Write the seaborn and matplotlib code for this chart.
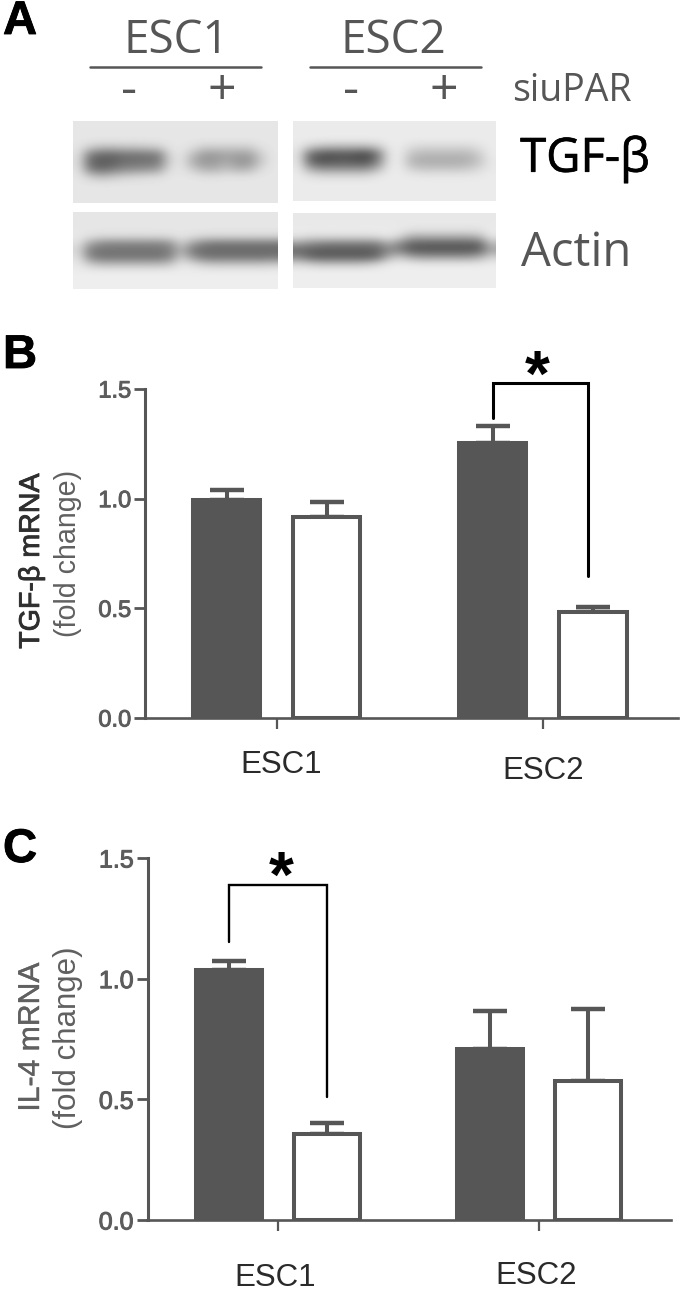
import numpy as np
import pandas as pd
import seaborn as sns
import matplotlib
matplotlib.use("Agg")
import matplotlib.pyplot as plt
import matplotlib.patheffects as pe
from matplotlib.lines import Line2D
from matplotlib.transforms import ScaledTranslation

cells = ["ESC1", "ESC2"]
treatment = ["-", "+"]
yticks = [0.0, 0.5, 1.0, 1.5]

tgf_means = [0.995, 0.915, 1.255, 0.485]
tgf_tops = [1.04, 0.985, 1.33, 0.505]
il4_means = [1.035, 0.355, 0.71, 0.575]
il4_tops = [1.075, 0.40, 0.868, 0.875]

bg_l = [230] * 18
bg_r = [235] * 18
blot_tgf_left = [
    bg_l, bg_l, bg_l,
    [228, 205, 190, 190, 195, 195, 200, 205, 228, 230, 222, 205, 205, 205, 205, 205, 225, 230],
    [225, 125, 105, 105, 115, 115, 120, 125, 215, 230, 190, 155, 155, 165, 160, 160, 205, 230],
    [222, 105, 90, 95, 110, 112, 115, 120, 210, 230, 175, 150, 155, 170, 150, 150, 200, 230],
    [226, 130, 110, 125, 140, 145, 150, 160, 222, 230, 205, 180, 180, 195, 180, 185, 220, 230],
    [230, 205, 190, 200, 210, 215, 220, 222, 230, 230, 230, 225, 225, 228, 228, 228, 230, 230],
    bg_l, bg_l, bg_l,
]
blot_tgf_right = [
    bg_r, bg_r, bg_r,
    [232, 205, 190, 185, 185, 185, 185, 200, 232, 235, 220, 215, 215, 215, 215, 215, 225, 235],
    [228, 115, 90, 85, 90, 85, 75, 120, 228, 235, 195, 185, 185, 185, 185, 185, 205, 235],
    [228, 105, 80, 85, 90, 85, 80, 125, 228, 235, 180, 172, 172, 172, 172, 175, 195, 232],
    [232, 165, 140, 140, 140, 140, 140, 175, 232, 235, 205, 195, 195, 195, 195, 200, 215, 232],
    [235, 222, 215, 215, 215, 215, 215, 228, 235, 235, 232, 230, 230, 230, 230, 230, 232, 235],
    bg_r, bg_r, bg_r,
]
blot_actin_left = [
    bg_l, bg_l, bg_l,
    [232, 222, 215, 215, 215, 215, 215, 215, 218, 228, 220, 212, 212, 212, 212, 212, 212, 212],
    [225, 165, 140, 135, 135, 135, 135, 135, 145, 205, 160, 130, 120, 120, 120, 120, 120, 120],
    [215, 125, 115, 115, 115, 115, 115, 115, 125, 180, 120, 105, 105, 105, 105, 105, 105, 105],
    [225, 140, 120, 120, 120, 120, 120, 120, 135, 205, 155, 125, 120, 120, 120, 120, 120, 125],
    [232, 205, 190, 190, 190, 190, 190, 190, 200, 230, 222, 205, 200, 200, 200, 200, 200, 205],
    [236] * 18, [238] * 18, [238] * 18,
]
blot_actin_right = [
    [232] * 18, [232] * 18,
    [235, 235, 235, 235, 235, 235, 235, 235, 235, 232, 225, 225, 225, 225, 225, 225, 225, 235],
    [225, 215, 215, 215, 215, 215, 215, 218, 228, 210, 170, 170, 170, 170, 170, 170, 180, 228],
    [155, 140, 130, 125, 125, 125, 125, 130, 170, 135, 100, 95, 95, 95, 95, 95, 100, 185],
    [105, 95, 90, 90, 90, 90, 90, 100, 135, 130, 95, 90, 90, 90, 90, 90, 100, 165],
    [140, 110, 100, 100, 100, 100, 100, 115, 180, 200, 170, 160, 160, 160, 160, 160, 175, 210],
    [215, 205, 195, 195, 195, 195, 200, 215, 232, 236, 235, 232, 232, 232, 232, 232, 232, 236],
    [238] * 18, [238] * 18, [238] * 18,
]

W, H = 681, 1290
GRAY = "#565656"
sns.set_theme(style="ticks")
plt.rcParams["font.family"] = ["Liberation Sans", "DejaVu Sans"]

fig = plt.figure(figsize=(W / 100, H / 100), dpi=100, facecolor="white")


def stroke(width, color):
    return [pe.withStroke(linewidth=width, foreground=color)]


def px_axes(x0, y0, x1, y1):
    return fig.add_axes([x0 / W, 1 - y1 / H, (x1 - x0) / W, (y1 - y0) / H])


def px_text(x, y, s, **kw):
    kw.setdefault("ha", "center")
    kw.setdefault("va", "center")
    return fig.text(x / W, 1 - y / H, s, **kw)


def draw_blot(grid, box):
    ax = px_axes(*box)
    ax.imshow(np.array(grid), cmap="gray", vmin=0, vmax=255, aspect="auto",
              interpolation="bicubic")
    ax.axis("off")


def draw_panel(box, xlim, means, tops, bracket, star, tick_size, label_offsets):
    ax = px_axes(*box)
    df = pd.DataFrame({
        "cell": [c for c in cells for _ in treatment],
        "siuPAR": treatment * 2,
        "fold": means,
    })
    sns.barplot(data=df, x="cell", y="fold", hue="siuPAR", order=cells, hue_order=treatment,
                palette={"-": GRAY, "+": "white"}, saturation=1, width=0.752, gap=0.33,
                edgecolor=GRAY, linewidth=2.9, errorbar=None, legend=False, ax=ax, zorder=3)
    bars = sorted(ax.patches, key=lambda p: p.get_x())
    xs = [b.get_x() + b.get_width() / 2 for b in bars]
    ax.errorbar(xs, means, yerr=[np.zeros(4), np.array(tops) - np.array(means)], fmt="none",
                ecolor=GRAY, elinewidth=2.9, capsize=12.5, capthick=3.2, zorder=2, clip_on=False)

    ax.set_xlim(*xlim)
    ax.set_ylim(0, 1.5)
    ax.set_yticks(yticks, [f"{t:.1f}" for t in yticks])
    ax.set_xlabel("")
    ax.set_ylabel("")
    sns.despine(ax=ax)
    ax.spines["left"].set_linewidth(2.2)
    ax.spines["bottom"].set_linewidth(1.9)
    ax.spines["left"].set_color(GRAY)
    ax.spines["bottom"].set_color(GRAY)
    ax.tick_params(axis="y", length=8, width=2, color=GRAY, pad=2, labelsize=tick_size, labelcolor="#5c5c5c")
    ax.tick_params(axis="x", length=8, width=1.6, color=GRAY, pad=13, labelsize=22.5, labelcolor="#2a2a2a")
    for lab in ax.get_yticklabels():
        lab.set_path_effects(stroke(0.7, "#5c5c5c"))
    for lab, (dx, dy) in zip(ax.get_xticklabels(), label_offsets):
        lab.set_transform(lab.get_transform() + ScaledTranslation(dx / 100, -dy / 100, fig.dpi_scale_trans))

    i, j, top, low_left, low_right, right_shift, lw = bracket
    ax.plot([xs[i], xs[i], xs[j] + right_shift, xs[j] + right_shift], [low_left, top, top, low_right],
            color="black", lw=lw, clip_on=False, zorder=4, solid_joinstyle="miter")
    ax.annotate("*", xy=((xs[i] + xs[j]) / 2, star[0]), xytext=(star[1], 0), textcoords="offset pixels",
                fontsize=46, fontweight="bold", color="black", ha="center", va="center",
                annotation_clip=False)
    return ax


# panel A
cond_font = ["Open Sans", "DejaVu Sans"]
for x, s in zip([176.5, 393.5], cells):
    px_text(x, 41, s, family=cond_font, fontsize=33, color=GRAY)
for x0, x1 in [(90, 261), (310, 481)]:
    fig.add_artist(Line2D([x0 / W, x1 / W], [1 - 67 / H] * 2, color=GRAY, lw=1.8))
for x, s in zip([129, 222, 351, 444], treatment * 2):
    px_text(x, 92, s, family=cond_font, fontsize=36, color=GRAY)
px_text(572, 91, "siuPAR", family=cond_font, fontsize=27, color=GRAY)
px_text(585, 159, "TGF-β", family=cond_font, fontsize=34, color="black", path_effects=stroke(0.5, "black"))
px_text(576, 253, "Actin", family=cond_font, fontsize=34, color=GRAY)

draw_blot(blot_tgf_left, (73, 121, 278, 203))
draw_blot(blot_tgf_right, (293, 121, 496, 201))
draw_blot(blot_actin_left, (73, 212, 278, 289))
draw_blot(blot_actin_right, (293, 213, 496, 288))

# panel B
draw_panel((145, 389, 678, 718), (-0.496, 1.5075), tgf_means, tgf_tops,
           (2, 3, 1.527, 1.368, 0.647, -0.019, 2.2), (1.545, -6), 17, [(4, 3), (0, 9)])
px_text(31, 561, "TGF-β mRNA", rotation=90, color="#2f2f2f", fontsize=20.6, path_effects=stroke(0.6, "#2f2f2f"))
px_text(68, 553, "(fold change)", rotation=90, color="#606060", fontsize=20.6)

# panel C
draw_panel((147.5, 858, 671, 1220), (-0.5, 1.506), il4_means, il4_tops,
           (0, 1, 1.388, 1.151, 0.511, 0, 1.7), (1.41, 3), 18, [(-3, 14), (-3, 12)])
px_text(31, 1037, "IL-4 mRNA", rotation=90, color="#606060", fontsize=21.7, path_effects=stroke(0.3, "#606060"))
px_text(68, 1038, "(fold change)", rotation=90, color="#606060", fontsize=22.5)

for y, s in zip([22, 356, 850], ["A", "B", "C"]):
    px_text(3, y, s, ha="left", fontsize=34, fontweight="bold", color="black", path_effects=stroke(0.6, "black"))

fig.savefig("out.png", dpi=100)
